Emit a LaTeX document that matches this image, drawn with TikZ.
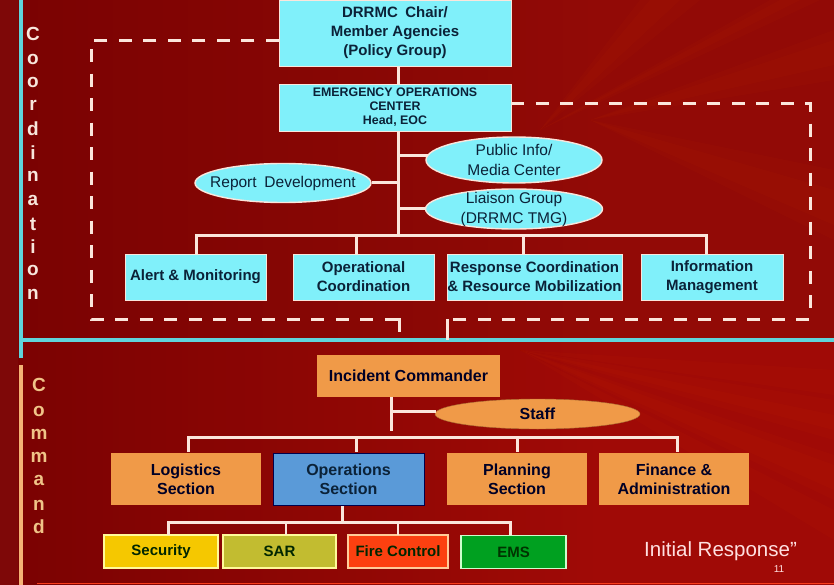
\documentclass[tikz,border=0pt]{standalone}
\usepackage{fontspec}
\setmainfont{Liberation Sans}
\usetikzlibrary{shapes.geometric}
\definecolor{bgdark}{HTML}{7A0202}
\definecolor{bgred}{HTML}{A00A06}
\definecolor{bgtop}{HTML}{920A06}
\definecolor{bgleft}{HTML}{7E0808}
\definecolor{cy}{HTML}{80F0FA}
\definecolor{orangebox}{HTML}{F09A48}
\definecolor{ink}{HTML}{0B2238}
\definecolor{conn}{HTML}{FBE6DC}
\definecolor{opsblue}{HTML}{5A9AD8}
\definecolor{secfill}{HTML}{F5C800}
\definecolor{sarfill}{HTML}{C2BC30}
\definecolor{firefill}{HTML}{FC4010}
\definecolor{emsfill}{HTML}{00A020}
\definecolor{cmdletter}{HTML}{F0C488}
\definecolor{coordletter}{HTML}{F8E6DC}
\tikzset{
  x=1pt,y=-1pt,
  cbox/.style={draw=conn,line width=.5pt,fill=cy,inner sep=0pt,align=center,text=ink,font=\bfseries\fontsize{15}{19}\selectfont},
  oell/.style={ellipse,draw=conn,line width=1.4pt,fill=cy,inner xsep=-15pt,inner ysep=-8pt,align=center,text=ink,font=\fontsize{15.5}{20}\selectfont},
  obox/.style={draw=none,fill=orangebox,inner sep=0pt,align=center,text=black!85!blue,font=\bfseries\fontsize{16}{19}\selectfont},
  sbox/.style={draw=#1,line width=1.6pt,inner sep=0pt,align=center,text=black!85!green,font=\bfseries\fontsize{15}{15}\selectfont},
  conline/.style={draw=conn,line width=3pt},
  dline/.style={draw=conn,line width=3pt,dash pattern=on 13pt off 11.5pt},
  lett/.style={inner sep=0pt,font=\bfseries\fontsize{19}{19}\selectfont},
  ray/.style={fill=orange!70!red,opacity=0.035,draw=none},
}
\begin{document}
\begin{tikzpicture}
\useasboundingbox (0,0) rectangle (834,585);
% background
\fill[bgred] (0,0) rectangle (834,585);
\fill[bgtop] (600,0) rectangle (834,340);
\shade[left color=bgdark,right color=bgtop,shading angle=90] (0,0) rectangle (600,340);
\shade[left color=bgdark,right color=bgred] (0,340) rectangle (600,585);
\fill[bgleft] (0,0) rectangle (18,585);
% rays
\foreach \a/\b in {640/700,650/680,770/820,780/800}
  \fill[ray] (540,130) -- (\a,0) -- (\b,0) -- cycle;
\foreach \a/\b in {30/80,40/65,170/240,190/225}
  \fill[ray] (590,120) -- (834,\a) -- (834,\b) -- cycle;
\foreach \a/\b in {455/500,465/490,510/540}
  \fill[ray] (520,350) -- (834,\a) -- (834,\b) -- cycle;
\foreach \a/\b in {400/440,415/430,370/395}
  \fill[ray] (520,350) -- (834,\a) -- (834,\b) -- cycle;
% frame lines
\draw[cy!75!teal,line width=4pt] (21,0) -- (21,358);
\draw[cy!75!teal,line width=3.5pt] (22,340) -- (834,340);
\draw[orangebox!75!white,line width=4.5pt] (21,365) -- (21,585);
\draw[orangebox!40!red,line width=1.5pt] (37,583.5) -- (834,583.5);
% side letters
\foreach \c/\y in {C/34,o/59,o/82,r/105,d/129,i/153,n/176,a/200,t/224,i/247,o/270,n/294}
  \node[lett,text=coordletter] at (33,\y) {\c};
\foreach \c/\y in {C/385,o/411,m/434,m/457,a/480,n/505,d/527}
  \node[lett,text=cmdletter] at (39,\y) {\c};
% coordination nodes
\node[cbox,minimum width=232pt,minimum height=66pt] (chair) at (395,33) {DRRMC\enspace Chair/\\Member Agencies\\(Policy Group)};
\node[cbox,minimum width=232pt,minimum height=47pt,font=\bfseries\fontsize{12.4}{14}\selectfont] (eoc) at (395,107.5) {EMERGENCY OPERATIONS\\CENTER\\Head, EOC};
\node[oell,minimum width=176pt,minimum height=39pt] (report) at (283,183) {Report\enspace Development};
\node[oell,minimum width=176pt,minimum height=46pt] (pub) at (514,160) {Public Info/\\Media Center};
\node[oell,minimum width=177pt,minimum height=40pt] (liaison) at (514,209) {Liaison Group\\(DRRMC TMG)};
\node[cbox,minimum width=141pt,minimum height=46pt] (alert) at (195.5,277) {Alert \& Monitoring};
\node[cbox,minimum width=141pt,minimum height=46pt] (oper) at (363.5,277) {Operational\\Coordination};
\node[cbox,minimum width=175pt,minimum height=46pt] (resp) at (534.5,277) {Response Coordination\\\& Resource Mobilization};
\node[cbox,minimum width=142pt,minimum height=46pt] (info) at (712,277) {Information\\Management};
% command nodes
\node[obox,minimum width=183pt,minimum height=42pt] (ic) at (408.5,376) {Incident Commander};
\node[ellipse,fill=orangebox,draw=orangebox!70!black,inner sep=0pt,minimum width=205pt,minimum height=30pt,font=\bfseries\fontsize{16}{17}\selectfont,text=black!85!blue] (staff) at (537.5,414) {Staff};
\node[obox,minimum width=150pt,minimum height=52pt] (log) at (186,479) {Logistics\\Section};
\node[obox,draw=black!70!blue,line width=1pt,fill=opsblue,minimum width=151pt,minimum height=52pt,text=ink] (ops) at (348.5,479) {Operations\\Section};
\node[obox,minimum width=140pt,minimum height=52pt] (plan) at (517,479) {Planning\\Section};
\node[obox,minimum width=150pt,minimum height=52pt] (fin) at (674,479) {Finance \&\\Administration};
\node[sbox={yellow!40!white},fill=secfill,minimum width=114pt,minimum height=33pt] (sec) at (161,551.5) {Security};
\node[sbox={yellow!40!white},fill=sarfill,minimum width=113pt,minimum height=33pt] (sar) at (279.5,551.5) {SAR};
\node[sbox={orange!40!white},fill=firefill,minimum width=100pt,minimum height=33pt] (fire) at (398,551.5) {Fire Control};
\node[sbox={green!20!white},fill=emsfill,minimum width=105pt,minimum height=33pt,text=black!80!green] (ems) at (513.5,552) {EMS};
\node[inner sep=0pt,anchor=west,text=white!88!red,font=\fontsize{20.5}{22}\selectfont] (ir) at (644,551) {Initial Response"};
\node[inner sep=0pt,anchor=north,text=white!88!red,font=\fontsize{10}{10}\selectfont] (pg) at (779,565) {11};
% coordinates
\coordinate (busA) at (398,235);
\coordinate (lc1) at (91,41);
\coordinate (lc2) at (91,319);
\coordinate (lc3) at (399,319);
\coordinate (lc4) at (399,332);
\coordinate (rc1) at (810,104);
\coordinate (rc2) at (810,319);
\coordinate (rc3) at (447,319);
\coordinate (rc4) at (447,340);
\coordinate (st) at (436,411);
\coordinate (pb) at (428,156);
% solid connectors
\draw[conline] (chair.south -| busA) -- (eoc.north -| busA);
\draw[conline] (eoc.south -| busA) -- (busA);
\draw[conline] (busA |- pb) -- (pb);
\draw[conline] (busA |- report.east) -- (report.east);
\draw[conline] (busA |- liaison.west) -- (liaison.west);
\draw[conline] (196,254) -- (196,235) -- (706,235) -- (706,254);
\draw[conline] (356,235) -- (356,254);
\draw[conline] (523,235) -- (523,254);
\draw[conline] (391,397) -- (391,431);
\draw[conline] (391,411) -- (st);
\draw[conline] (188,452) -- (188,437) -- (677,437) -- (677,452);
\draw[conline] (356,437) -- (356,452);
\draw[conline] (517,437) -- (517,452);
\draw[conline] (342,506) -- (342,522);
\draw[conline] (168,535) -- (168,522) -- (510,522) -- (510,535);
\draw[conline,line width=2pt] (286,522) -- (286,535);
\draw[conline,line width=2pt] (398,522) -- (398,535);
% dashed connectors
\draw[dline] (chair.west |- lc1) -- (lc1) -- (lc2) -- (lc3);
\draw[conline] (386,319) -- (lc3) -- (lc4);
\draw[dline] (eoc.east |- rc1) -- (rc1) -- (rc2) -- (rc3);
\draw[conline] (rc3) -- (rc4);
\end{tikzpicture}
\end{document}
